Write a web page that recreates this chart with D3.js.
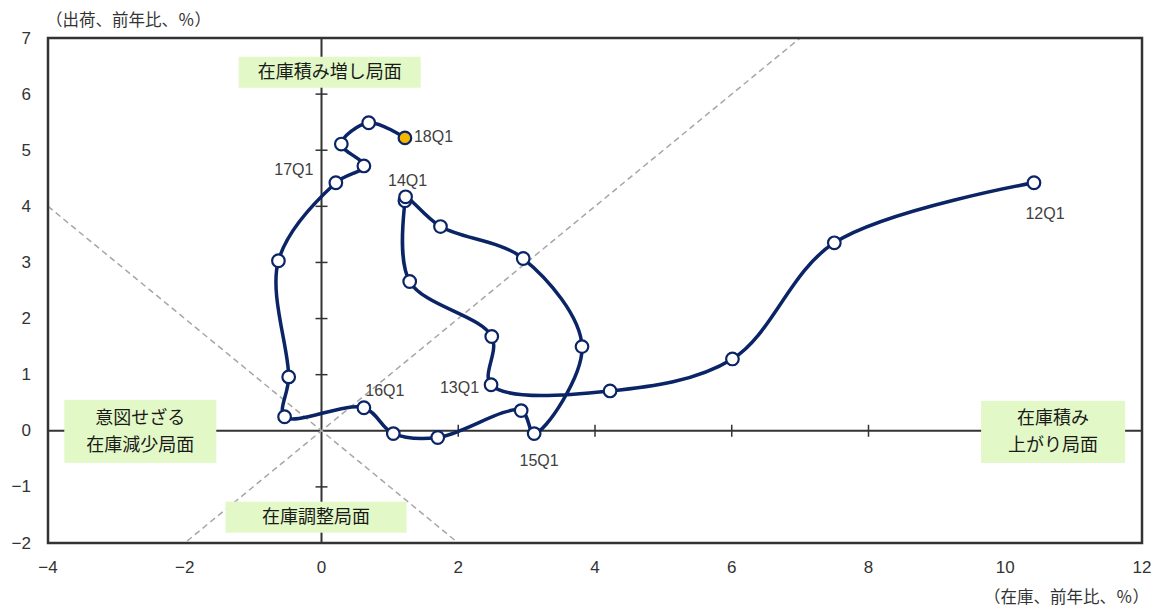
<!DOCTYPE html>
<html>
<head>
<meta charset="utf-8">
<script src="https://cdn.jsdelivr.net/npm/d3@7/dist/d3.min.js"></script>
<style>
  html, body { margin: 0; padding: 0; background: #fff; }
  svg { display: block; font-family: "Liberation Sans", "Noto Sans CJK JP", sans-serif; }
</style>
</head>
<body>
<svg id="chart" width="1158" height="610"></svg>
<script>
// Quarterly inventory (x) vs shipments (y), year-on-year %
const quarters = ["12Q1","12Q2","12Q3","12Q4","13Q1","13Q2","13Q3","13Q4",
                  "14Q1","14Q2","14Q3","14Q4","15Q1","15Q2","15Q3","15Q4",
                  "16Q1","16Q2","16Q3","16Q4","17Q1","17Q2","17Q3","17Q4","18Q1"];
const inventory = [10.42, 7.50, 6.01, 4.22, 2.48, 2.49, 1.29, 1.22,
                   1.23, 1.74, 2.95, 3.81, 3.11, 2.92, 1.70, 1.05,
                   0.62, -0.54, -0.48, -0.63, 0.21, 0.62, 0.29, 0.69, 1.22];
const shipments = [4.42, 3.35, 1.28, 0.71, 0.82, 1.68, 2.66, 4.10,
                   4.17, 3.64, 3.07, 1.50, -0.05, 0.36, -0.12, -0.05,
                   0.41, 0.25, 0.96, 3.03, 4.42, 4.72, 5.11, 5.49, 5.22];

const xTicks = [-4, -2, 0, 2, 4, 6, 8, 10, 12];
const yTicks = [-2, -1, 0, 1, 2, 3, 4, 5, 6, 7];

// Quarters that carry a text label
const labelled = ["12Q1", "13Q1", "14Q1", "15Q1", "16Q1", "17Q1", "18Q1"];

// Phase captions (lines of text, centred at a data position)
const phaseText = [
  ["在庫積み増し局面"],
  ["意図せざる", "在庫減少局面"],
  ["在庫調整局面"],
  ["在庫積み", "上がり局面"]
];
const phaseAt = [[0.12, 6.39], [-2.65, -0.01], [-0.08, -1.54], [10.70, -0.02]];

const xTitle = "（在庫、前年比、％）";
const yTitle = "（出荷、前年比、％）";

// ---- layout ----
const W = 1158, H = 610;
const m = { left: 48, right: 16, top: 38, bottom: 67 };
const pw = W - m.left - m.right, ph = H - m.top - m.bottom;

const x = d3.scaleLinear().domain([-4, 12]).range([m.left, m.left + pw]);
const y = d3.scaleLinear().domain([-2, 7]).range([m.top + ph, m.top]);

const svg = d3.select("#chart");

svg.append("defs").append("clipPath").attr("id", "plotClip")
  .append("rect").attr("x", m.left).attr("y", m.top).attr("width", pw).attr("height", ph);

const axisCol = "#333333";
const fmt = d3.format("");

// axis lines through the origin with crossing tick marks
const gAxes = svg.append("g");
gAxes.append("line")
  .attr("x1", x(-4)).attr("x2", x(12)).attr("y1", y(0)).attr("y2", y(0))
  .attr("stroke", axisCol).attr("stroke-width", 2);
gAxes.append("line")
  .attr("x1", x(0)).attr("x2", x(0)).attr("y1", y(-2)).attr("y2", y(7))
  .attr("stroke", axisCol).attr("stroke-width", 2);

gAxes.selectAll(".xt").data(xTicks.filter(d => d > -4 && d < 12 && d !== 0)).join("line")
  .attr("x1", d => x(d)).attr("x2", d => x(d))
  .attr("y1", y(0) - 6).attr("y2", y(0) + 6)
  .attr("stroke", axisCol).attr("stroke-width", 1.5);
gAxes.selectAll(".yt").data(yTicks.filter(d => d > -2 && d < 7 && d !== 0)).join("line")
  .attr("x1", x(0) - 6).attr("x2", x(0) + 6)
  .attr("y1", d => y(d)).attr("y2", d => y(d))
  .attr("stroke", axisCol).attr("stroke-width", 1.5);

// diagonal guide lines y = x and y = -x
const gGuide = svg.append("g").attr("clip-path", "url(#plotClip)");
[1, -1].forEach(s => {
  gGuide.append("line")
    .attr("x1", x(-4)).attr("y1", y(-4 * s))
    .attr("x2", x(12)).attr("y2", y(12 * s))
    .attr("stroke", "#a6a6a6").attr("stroke-width", 1.5)
    .attr("stroke-dasharray", "6,4");
});

// tick labels
svg.append("g").selectAll("text").data(xTicks).join("text")
  .attr("x", d => x(d)).attr("y", m.top + ph + 24)
  .attr("text-anchor", "middle").attr("dominant-baseline", "central")
  .attr("font-size", 17).attr("fill", axisCol)
  .text(d => fmt(d));
svg.append("g").selectAll("text").data(yTicks).join("text")
  .attr("x", m.left - 17).attr("y", d => y(d))
  .attr("text-anchor", "end").attr("dominant-baseline", "central")
  .attr("font-size", 17).attr("fill", axisCol)
  .text(d => fmt(d));

// axis titles
svg.append("text").attr("x", 46).attr("y", 20)
  .attr("dominant-baseline", "central").attr("font-size", 16.5).attr("fill", axisCol)
  .text(yTitle);
svg.append("text").attr("x", 1149).attr("y", 597)
  .attr("text-anchor", "end").attr("dominant-baseline", "central")
  .attr("font-size", 16.5).attr("fill", axisCol)
  .text(xTitle);

// phase caption boxes (box sizes in px)
const boxW = [182, 152, 181, 144];
const boxH = [31, 63, 31, 62];
const gPhase = svg.append("g");
phaseText.forEach((lines, i) => {
  const cx = x(phaseAt[i][0]), cy = y(phaseAt[i][1]);
  const g = gPhase.append("g");
  const lh = 27;
  g.append("rect")
    .attr("x", cx - boxW[i] / 2).attr("y", cy - boxH[i] / 2)
    .attr("width", boxW[i]).attr("height", boxH[i])
    .attr("fill", "#e2f8c6");
  const t = g.append("text").attr("font-size", 18).attr("fill", "#1a1a1a")
    .attr("text-anchor", "middle");
  lines.forEach((ln, k) => {
    t.append("tspan").attr("x", cx)
      .attr("y", cy + (k - (lines.length - 1) / 2) * lh)
      .attr("dominant-baseline", "central").text(ln);
  });
});

// plot frame
svg.append("rect").attr("x", m.left).attr("y", m.top).attr("width", pw).attr("height", ph)
  .attr("fill", "none").attr("stroke", axisCol).attr("stroke-width", 2.5);

// trajectory
const pts = quarters.map((q, i) => ({ q, xv: inventory[i], yv: shipments[i] }));
const line = d3.line().x(d => x(d.xv)).y(d => y(d.yv)).curve(d3.curveCatmullRom.alpha(0.5));
svg.append("path").datum(pts).attr("d", line)
  .attr("fill", "none").attr("stroke", "#0a2466").attr("stroke-width", 3.5)
  .attr("stroke-linejoin", "round");

svg.append("g").selectAll("circle").data(pts).join("circle")
  .attr("cx", d => x(d.xv)).attr("cy", d => y(d.yv)).attr("r", 6.3)
  .attr("fill", d => d.q === "18Q1" ? "#f5b800" : "#ffffff")
  .attr("stroke", "#0a2466").attr("stroke-width", 2.2);

// quarter labels
const labelPlace = {
  "12Q1": { dx: 11, dy: 31, anchor: "middle" },
  "13Q1": { dx: -12, dy: 3, anchor: "end" },
  "14Q1": { dx: 2, dy: -16, anchor: "middle" },
  "15Q1": { dx: 5, dy: 27, anchor: "middle" },
  "16Q1": { dx: 21, dy: -17, anchor: "middle" },
  "17Q1": { dx: -42, dy: -13, anchor: "middle" },
  "18Q1": { dx: 9, dy: -1, anchor: "start" }
};
svg.append("g").selectAll("text").data(pts.filter(d => labelled.includes(d.q))).join("text")
  .attr("x", d => x(d.xv) + labelPlace[d.q].dx)
  .attr("y", d => y(d.yv) + labelPlace[d.q].dy)
  .attr("text-anchor", d => labelPlace[d.q].anchor)
  .attr("dominant-baseline", "central")
  .attr("font-size", 16).attr("fill", "#404040")
  .text(d => d.q);
</script>
</body>
</html>
